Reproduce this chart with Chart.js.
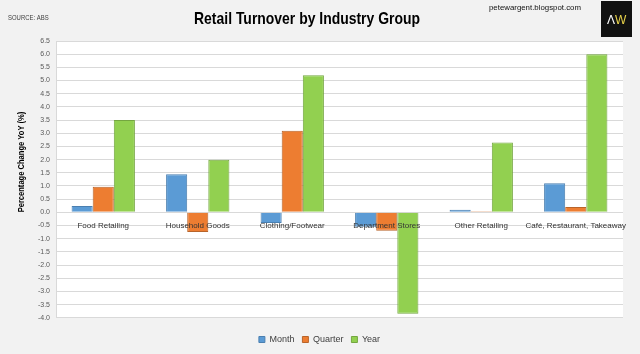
<!DOCTYPE html>
<html>
<head>
<meta charset="utf-8">
<script src="https://cdn.jsdelivr.net/npm/chart.js@4/dist/chart.umd.min.js"></script>
<style>
  html, body { margin: 0; padding: 0; background: #f2f2f2; }
  #wrap { width: 640px; height: 354px; position: relative; }
</style>
</head>
<body>
<div id="wrap"><canvas id="chart" width="640" height="354"></canvas></div>
<script>
// ── DATA ─────────────────────────────────────────────
const categorias = ['Food Retailing', 'Household Goods', 'Clothing/Footwear', 'Department Stores', 'Other Retailing', 'Café, Restaurant, Takeaway'];
const mes = [0.24, 1.45, -0.4, -0.55, 0.1, 1.1];
const trimestre = [0.97, -0.75, 3.1, -0.7, 0.04, 0.2];
const anio = [3.5, 2.0, 5.2, -3.85, 2.65, 6.0];

const COLORES = {
    month: '#5b9bd5',
    quarter: '#ed7d31',
    year: '#92d050',
};

// texto estrecho: escala horizontal
function textoEstrecho(ctx, txt, x, y, escala, rot = 0) {
    ctx.save();
    ctx.translate(x, y);
    ctx.rotate(rot);
    ctx.scale(escala, 1);
    ctx.fillText(txt, 0, 0);
    ctx.restore();
}

// fondo blanco del area + textos de cabecera
const decoracion = {
    id: 'decoracion',
    beforeDraw(chart) {
        const { ctx, chartArea: a } = chart;
        ctx.save();
        ctx.fillStyle = '#ffffff';
        ctx.fillRect(a.left, a.top, a.right - a.left, a.bottom - a.top);
        ctx.restore();
    },
    afterDraw(chart) {
        const { ctx } = chart;
        ctx.save();
        ctx.fillStyle = '#404040';
        ctx.font = '7px "Liberation Sans", sans-serif';
        ctx.textBaseline = 'middle';
        textoEstrecho(ctx, 'SOURCE: ABS', 8, 18, 0.85);

        ctx.fillStyle = '#000';
        ctx.font = 'bold 17px "Liberation Sans", sans-serif';
        ctx.textAlign = 'center';
        textoEstrecho(ctx, 'Retail Turnover by Industry Group', 307, 19, 0.82);

        // titulo eje Y
        ctx.font = 'bold 9px "Liberation Sans", sans-serif';
        textoEstrecho(ctx, 'Percentage Change YoY (%)', 22, 162, 0.84, -Math.PI / 2);

        ctx.font = '8px "Liberation Sans", sans-serif';
        ctx.textAlign = 'left';
        ctx.fillStyle = '#111';
        textoEstrecho(ctx, 'petewargent.blogspot.com', 489, 8, 0.98);

        // logo
        ctx.fillStyle = '#111';
        ctx.fillRect(601, 1, 31, 36);
        ctx.font = '12px "Liberation Sans", sans-serif';
        ctx.fillStyle = '#ffffff';
        ctx.fillText('Λ', 607, 21);
        ctx.fillStyle = '#e8d24a';
        ctx.fillText('W', 615, 21);
        ctx.restore();
    }
};

new Chart(document.getElementById('chart'), {
    type: 'bar',
    data: {
        labels: categorias,
        datasets: [
            { label: 'Month', data: mes, backgroundColor: COLORES.month, borderColor: '#4a7fb0', borderWidth: 1 },
            { label: 'Quarter', data: trimestre, backgroundColor: COLORES.quarter, borderColor: '#b8642a', borderWidth: 1 },
            { label: 'Year', data: anio, backgroundColor: COLORES.year, borderColor: '#74a640', borderWidth: 1 },
        ],
    },
    options: {
        responsive: false,
        animation: false,
        categoryPercentage: 0.67,
        barPercentage: 1.0,
        layout: { padding: { top: 41, right: 17, bottom: 0, left: 16 } },
        plugins: {
            legend: {
                position: 'bottom',
                title: { display: true, text: '', font: { size: 1 }, padding: { top: 0, bottom: 8 } },
                labels: {
                    boxWidth: 6, boxHeight: 6, padding: 8,
                    color: '#404040',
                    font: { size: 9, family: '"Liberation Sans", sans-serif' },
                },
            },
            tooltip: { enabled: false },
        },
        scales: {
            x: {
                position: { y: 0 },
                grid: { display: false },
                border: { display: false },
                ticks: {
                    z: 1,
                    color: '#333',
                    padding: 1,
                    maxRotation: 0,
                    autoSkip: false,
                    font: { size: 8, family: '"Liberation Sans", sans-serif' },
                },
            },
            y: {
                min: -4,
                max: 6.5,
                afterFit: s => { s.width = 40; },
                grid: { color: '#d9d9d9', drawTicks: false },
                border: { display: true, color: '#d9d9d9' },
                ticks: {
                    stepSize: 0.5,
                    padding: 6,
                    color: '#595959',
                    font: { size: 7, family: '"Liberation Sans", sans-serif' },
                    callback: v => v.toFixed(1),
                },
            },
        },
    },
    plugins: [decoracion],
});
</script>
</body>
</html>
